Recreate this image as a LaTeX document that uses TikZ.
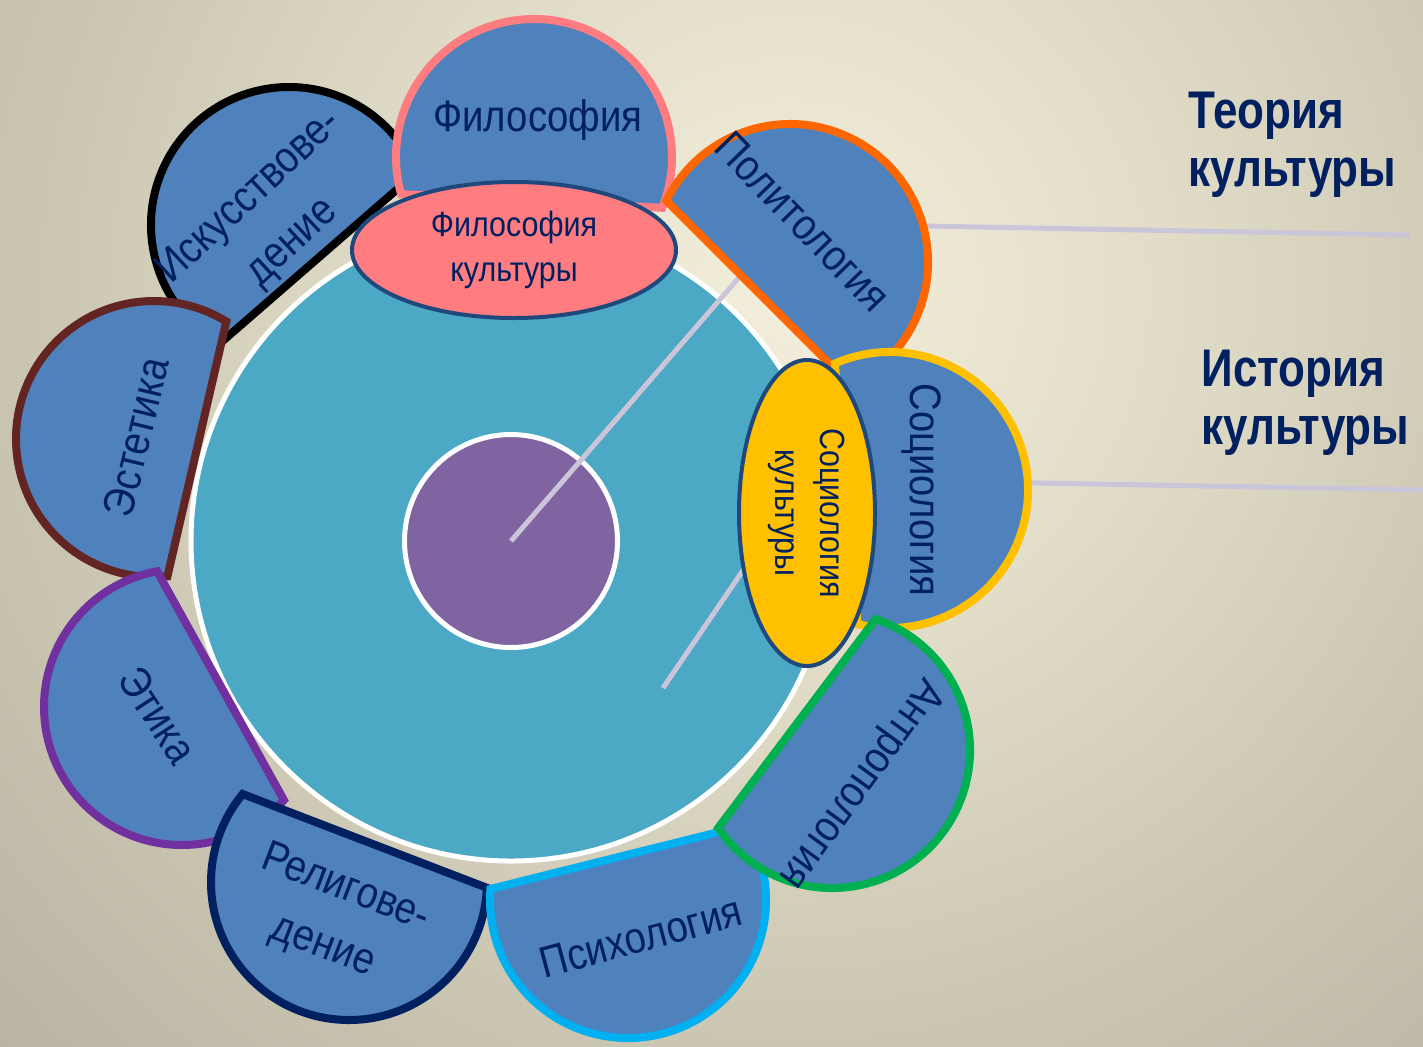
\documentclass[tikz,border=0pt]{standalone}
\usepackage{fontspec}
\setmainfont{Liberation Sans}
\newfontfamily\nfont[FakeStretch=0.87]{Liberation Sans}
\newfontfamily\nfontb[FakeStretch=0.83]{Liberation Sans}
\usetikzlibrary{shapes.geometric,calc}
\definecolor{bgA}{HTML}{F3EFDC}
\definecolor{bgB}{HTML}{E2DDC8}
\definecolor{bgC}{HTML}{CCC7B3}
\definecolor{bgD}{HTML}{B7B2A0}
\definecolor{petalblue}{HTML}{4F81BD}
\definecolor{tealc}{HTML}{4BA9C5}
\definecolor{purplec}{HTML}{8064A2}
\definecolor{pinkc}{HTML}{FF7C80}
\definecolor{goldc}{HTML}{FFC000}
\definecolor{ellborder}{HTML}{1F497D}
\definecolor{txtnavy}{HTML}{002060}
\definecolor{lavender}{HTML}{CBC5DA}
\definecolor{cArt}{HTML}{000000}
\definecolor{cAes}{HTML}{632523}
\definecolor{cEth}{HTML}{7030A0}
\definecolor{cRel}{HTML}{002060}
\definecolor{cPsy}{HTML}{00B0F0}
\definecolor{cPhi}{HTML}{FF7C80}
\definecolor{cPol}{HTML}{FF6600}
\definecolor{cSoc}{HTML}{FFC000}
\definecolor{cAnt}{HTML}{00B050}
\pgfdeclareradialshading{bgshade}{\pgfpoint{0bp}{0bp}}{color(0bp)=(bgA); color(8bp)=(bgB); color(16bp)=(bgC); color(25bp)=(bgD); color(50bp)=(bgD)}
\newcommand\petal[4]{%
  \begin{scope}[shift={(#1,#2)}]
    \draw[petalshape, draw=#4] (#3-108.6:138) arc[start angle=#3-108.6, end angle=#3+108.6, radius=138] -- cycle;
  \end{scope}}
\begin{document}
\begin{tikzpicture}[x=0.5pt,y=-0.5pt,
  petalshape/.style={fill=petalblue, line width=4pt},
  conn/.style={draw=lavender, line width=2.5pt},
  ptext/.style={text=txtnavy, font=\nfont\fontsize{22}{31}\selectfont, inner sep=0pt, align=center},
  etext/.style={text=txtnavy, font=\nfont\fontsize{17.5}{22.5}\selectfont, inner sep=0pt, align=center},
  ttext/.style={text=txtnavy, font=\nfontb\bfseries\fontsize{26.5}{29}\selectfont, inner sep=0pt, align=left}]
\useasboundingbox (0,0) rectangle (1423,1046);
\begin{scope}
  \clip (0,0) rectangle (1423,1046);
  \shade[shading=bgshade] (790,290) circle[radius=1150];
\end{scope}
% lines behind petals
\coordinate (lAa) at (870,225);
\coordinate (lAb) at (1410,235);
\coordinate (lBa) at (980,482);
\coordinate (lBb) at (1430,490);
\draw[conn] (lAa) -- (lAb);
\draw[conn] (lBa) -- (lBb);
% main disk and core
\node[circle, fill=tealc, draw=white, line width=2.5pt, minimum size=320pt, inner sep=0pt] (disk) at (511,541) {};
\node[circle, fill=purplec, draw=white, line width=2.5pt, minimum size=106.5pt, inner sep=0pt] (core) at (511,541) {};
\coordinate (l1b) at (748,267);
\coordinate (l2a) at (663,688);
\coordinate (l2b) at (765,538);
\draw[conn] (core.center) -- (l1b);
\draw[conn] (l2a) -- (l2b);
% petals
\petal{289}{225}{-131}{cArt}
\petal{154}{439}{193}{cAes}
\petal{182}{707}{151}{cEth}
\petal{349}{882}{111}{cRel}
\petal{628}{900}{76}{cPsy}
\petal{534}{157}{-87}{cPhi}
\petal{790}{262}{-45}{cPol}
\petal{890}{490}{-5}{cSoc}
\petal{832}{750}{37}{cAnt}
% ellipses
\node[ellipse, fill=pinkc, draw=ellborder, line width=2pt, minimum width=162pt, minimum height=68pt, inner sep=0pt, etext] (ephil) at (514,250) {Философия\\культуры};
\node[ellipse, fill=goldc, draw=ellborder, line width=2pt, minimum width=153pt, minimum height=68pt, inner sep=0pt, rotate=-90, etext] (esoc) at (807,513) {Социология\\культуры};
% petal texts
\node[ptext] (tPhil) at (538,120) {Философия};
\node[ptext, rotate=-46] (tPol) at (803,222) {Политология};
\node[ptext, rotate=-90] (tSoc) at (921,490) {Социология};
\node[ptext, rotate=-126] (tAnt) at (860,783) {Антропология};
\node[ptext, rotate=15] (tPsy) at (641,937) {Психология};
\node[ptext, rotate=-21] (tRel) at (334,918) {Религове-\\дение};
\node[ptext, rotate=-57] (tEth) at (158,715) {Этика};
\node[ptext, rotate=76.5] (tAes) at (136,437) {Эстетика};
\node[ptext, rotate=43] (tArt) at (271,220) {Искусствове-\\дение};
% right titles
\node[ttext, anchor=north west] (theory) at (1188,92) {Теория\\культуры};
\node[ttext, anchor=north west] (history) at (1201,350) {История\\культуры};
\end{tikzpicture}
\end{document}
